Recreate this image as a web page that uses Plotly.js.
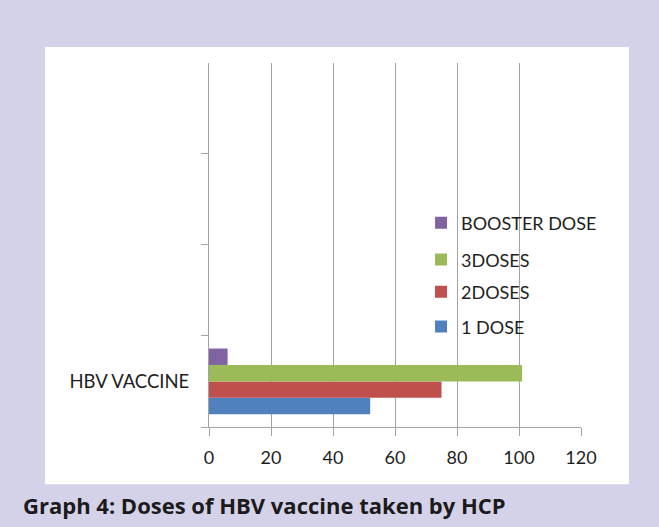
<!DOCTYPE html>
<html>
<head>
<meta charset="utf-8">
<script src="https://cdn.plot.ly/plotly-3.0.1.min.js"></script>
<style>
html,body{margin:0;padding:0;background:#d4d2e9;}
#chart{width:659px;height:527px;}
</style>
</head>
<body>
<div id="chart"></div>
<script>
// Data
const categories = ["HBV VACCINE", " ", "  ", "   "];
const seriesNames = ["1 DOSE", "2DOSES", "3DOSES", "BOOSTER DOSE"];
const seriesValues = [52, 75, 101, 6];
const seriesColors = ["#4f81bd", "#c0504d", "#9bbb59", "#8064a2"];
const xTicks = [0, 20, 40, 60, 80, 100, 120];
const caption = "Graph 4: Doses of HBV vaccine taken by HCP";

const legendIds = ["legend", "legend2", "legend3", "legend4"];
const legendY = [0.275, 0.371, 0.459, 0.560];

const traces = seriesNames.map((n, i) => ({
  type: "bar",
  orientation: "h",
  name: n,
  x: [seriesValues[i]],
  y: [categories[0]],
  marker: {color: seriesColors[i]},
  legend: legendIds[i],
  hoverinfo: "x+name"
}));
// helper so all category slots exist on the axis
traces.push({
  type: "scatter",
  mode: "markers",
  x: categories.slice(1).map(() => 0),
  y: categories.slice(1),
  marker: {opacity: 0},
  showlegend: false,
  hoverinfo: "skip"
});

const txtColor = "#1e1e1e";
const gridColor = "#a3a3a3";
const baseFont = {family: "Lato, sans-serif", size: 18, color: txtColor};

const layout = {
  width: 659,
  height: 527,
  paper_bgcolor: "#d4d2e9",
  plot_bgcolor: "rgba(0,0,0,0)",
  margin: {l: 209, r: 78, t: 63, b: 100},
  barmode: "group",
  bargap: 0.28,
  font: baseFont,
  xaxis: {
    range: [0, 120],
    tickvals: xTicks,
    showgrid: true,
    gridcolor: gridColor,
    gridwidth: 1,
    zeroline: false,
    showline: true,
    linecolor: gridColor,
    ticks: "outside",
    ticklen: 8,
    tickcolor: gridColor,
    ticklabelstandoff: 6,
    tickfont: baseFont,
    fixedrange: true
  },
  yaxis: {
    type: "category",
    categoryorder: "array",
    categoryarray: categories,
    range: [-0.5, 3.49],
    tickson: "boundaries",
    showgrid: false,
    zeroline: false,
    showline: true,
    linecolor: gridColor,
    ticks: "outside",
    ticklen: 7,
    tickcolor: gridColor,
    ticklabelstandoff: 15,
    tickfont: {family: "Lato, sans-serif", size: 18.5, color: txtColor},
    fixedrange: true
  },
  shapes: [{
    type: "rect", xref: "paper", yref: "paper",
    x0: -0.441, x1: 1.129, y0: -0.157, y1: 1.044,
    fillcolor: "#ffffff", line: {width: 0}, layer: "below"
  }],
  annotations: [{
    xref: "paper", yref: "paper",
    x: -0.505, y: -0.214, xanchor: "left", yanchor: "middle",
    text: "<b>" + caption + "</b>", showarrow: false,
    font: {family: "Open Sans, sans-serif", size: 22, color: "#1c1a1b"}
  }]
};
legendIds.forEach((id, i) => {
  layout[id] = {
    x: 0.57, y: legendY[i], xanchor: "left", yanchor: "middle",
    bgcolor: "rgba(0,0,0,0)", borderwidth: 0,
    font: baseFont, itemclick: false, itemdoubleclick: false
  };
});

Plotly.newPlot("chart", traces, layout, {displayModeBar: false, staticPlot: true});
</script>
</body>
</html>
